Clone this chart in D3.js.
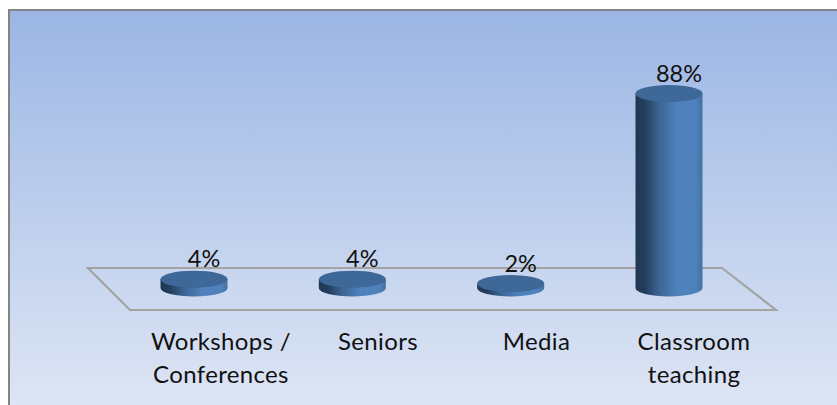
<!DOCTYPE html>
<html><head><meta charset="utf-8">
<script src="https://cdn.jsdelivr.net/npm/d3@7"></script>
<style>html,body{margin:0;padding:0;background:#fff;overflow:hidden}svg{display:block}text{font-family:Lato,"Open Sans",sans-serif;fill:#111}</style>
</head><body><svg id="c" width="837" height="405"></svg>
<script>
const categories = ["Workshops / Conferences","Seniors","Media","Classroom teaching"];
const labelLines = [["Workshops /","Conferences"],["Seniors"],["Media"],["Classroom","teaching"]];
const values = [4,4,2,88];
const valueLabels = ["4%","4%","2%","88%"];

const svg = d3.select("#c");
const defs = svg.append("defs");
const bg = defs.append("linearGradient").attr("id","bg").attr("x1",0).attr("y1",0).attr("x2",0).attr("y2",1);
bg.append("stop").attr("offset",0).attr("stop-color","#9bb6e4");
bg.append("stop").attr("offset",1).attr("stop-color","#e0e7f5");
const cyl = defs.append("linearGradient").attr("id","cyl").attr("x1",0).attr("y1",0).attr("x2",1).attr("y2",0);
[[0,"#1f3550"],[0.15,"#24405f"],[0.35,"#3a6594"],[0.62,"#4f81bd"],[0.9,"#4f81bd"],[1,"#44719f"]].forEach(d=>cyl.append("stop").attr("offset",d[0]).attr("stop-color",d[1]));
defs.append("filter").attr("id","soft").append("feGaussianBlur").attr("stdDeviation",0.5);

svg.append("rect").attr("x",9).attr("y",10).attr("width",840).attr("height",410)
  .attr("fill","url(#bg)").attr("stroke","#848484").attr("stroke-width",2);

const x = d3.scalePoint().domain(categories).range([194,669]);
const y = d3.scaleLinear().domain([0,88]).range([288,93.5]);
const rx = 33.5, ry = 8.5;

const floor = d3.line();
const floorPts = [[88,268],[722,268],[776,310],[130,310]];
svg.append("path").attr("d",floor(floorPts)+"Z").attr("fill","none")
  .attr("stroke","#a3a3a3").attr("stroke-width",2.2).attr("filter","url(#soft)");

const g = svg.selectAll("g.bar").data(categories).join("g").attr("class","bar").attr("filter","url(#soft)");
g.append("path").attr("fill","url(#cyl)").attr("d",(d,i)=>{
  const cx=x(d), t=y(values[i]), b=y(0);
  return `M${cx-rx},${t}L${cx-rx},${b}A${rx},${ry} 0 0 0 ${cx+rx},${b}L${cx+rx},${t}Z`;
});
g.append("ellipse").attr("cx",d=>x(d)).attr("cy",(d,i)=>y(values[i])).attr("rx",rx).attr("ry",ry).attr("fill","#3c6797");

svg.selectAll("text.v").data(categories).join("text").attr("class","v")
  .attr("x",d=>x(d)+10).attr("text-anchor","middle")
  .attr("y",(d,i)=>y(values[i])-12).attr("font-size",23.5)
  .text((d,i)=>valueLabels[i]);

const lx = [221,378,536.5,694];
labelLines.forEach((lines,i)=>lines.forEach((t,j)=>{
  svg.append("text").attr("x",lx[i]).attr("y",350+j*32.5).attr("text-anchor","middle")
    .attr("font-size",24).attr("letter-spacing",0.35).text(t);
}));
</script></body></html>
